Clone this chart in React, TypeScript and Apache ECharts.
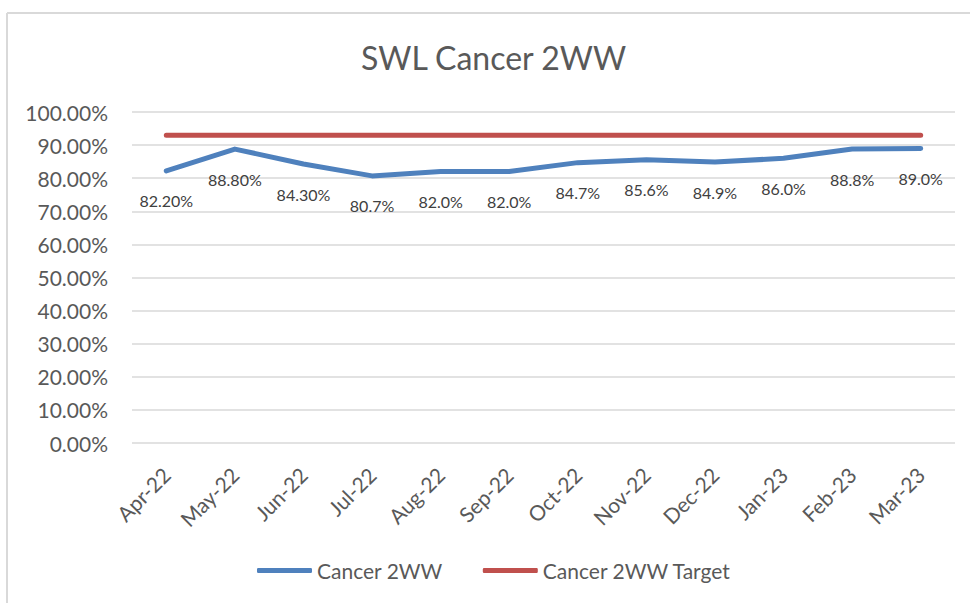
import React, { useEffect, useRef } from "react";
import * as echarts from "echarts";

const categories = ["Apr-22", "May-22", "Jun-22", "Jul-22", "Aug-22", "Sep-22", "Oct-22", "Nov-22", "Dec-22", "Jan-23", "Feb-23", "Mar-23"];
const actual = [0.822, 0.888, 0.843, 0.807, 0.82, 0.82, 0.847, 0.856, 0.849, 0.86, 0.888, 0.89];
const actualLabels = ["82.20%", "88.80%", "84.30%", "80.7%", "82.0%", "82.0%", "84.7%", "85.6%", "84.9%", "86.0%", "88.8%", "89.0%"];
const target = [0.93, 0.93, 0.93, 0.93, 0.93, 0.93, 0.93, 0.93, 0.93, 0.93, 0.93, 0.93];

const FONT = "Lato";
const GREY = "#595959";

export default function App() {
  const ref = useRef<HTMLDivElement>(null);
  useEffect(() => {
    if (!ref.current) return;
    const chart = echarts.init(ref.current, undefined, { renderer: "svg" });
    chart.setOption({
      animation: false,
      backgroundColor: "#ffffff",
      textStyle: { fontFamily: FONT },
      title: {
        text: "SWL Cancer 2WW",
        left: 356,
        top: 36,
        textStyle: { fontFamily: FONT, fontSize: 32, fontWeight: "normal", color: GREY },
      },
      graphic: [
        { type: "line", shape: { x1: 7, y1: 13, x2: 970, y2: 13 }, style: { stroke: "#d9d9d9", lineWidth: 2 } },
        { type: "line", shape: { x1: 7, y1: 13, x2: 7, y2: 603 }, style: { stroke: "#d9d9d9", lineWidth: 2 } },
      ],
      grid: { left: 132, right: 15, top: 112, bottom: 160, containLabel: false },
      legend: {
        bottom: 17,
        left: 252,
        itemWidth: 55,
        itemHeight: 5,
        itemGap: 40,
        textStyle: { fontFamily: FONT, fontSize: 21, color: GREY },
        data: [
          { name: "Cancer 2WW", icon: "roundRect" },
          { name: "Cancer 2WW Target", icon: "roundRect" },
        ],
      },
      xAxis: {
        type: "category",
        data: categories,
        boundaryGap: true,
        axisLine: { show: false },
        axisTick: { show: false },
        axisLabel: { rotate: 45, margin: 28, fontFamily: FONT, fontSize: 21, color: GREY, interval: 0 },
      },
      yAxis: {
        type: "value",
        min: 0,
        max: 1,
        interval: 0.1,
        axisLine: { show: false },
        axisTick: { show: false },
        splitLine: { lineStyle: { color: "#d9d9d9", width: 1.5 } },
        axisLabel: {
          margin: 24,
          fontFamily: FONT,
          fontSize: 21,
          color: GREY,
          formatter: (v: number) => (v * 100).toFixed(2) + "%",
        },
      },
      series: [
        {
          name: "Cancer 2WW",
          type: "line",
          data: actual,
          showSymbol: true,
          symbol: "circle",
          symbolSize: 0.1,
          lineStyle: { color: "#4F81BD", width: 5, cap: "round", join: "round" },
          itemStyle: { color: "#4F81BD" },
          label: {
            show: true,
            position: "bottom",
            distance: 22,
            fontFamily: FONT,
            fontSize: 16,
            color: "#404040",
            formatter: (p: any) => actualLabels[p.dataIndex],
          },
          z: 3,
        },
        {
          name: "Cancer 2WW Target",
          type: "line",
          data: target,
          showSymbol: false,
          symbol: "none",
          lineStyle: { color: "#C0504D", width: 5, cap: "round" },
          itemStyle: { color: "#C0504D" },
          z: 2,
        },
      ],
    });
    return () => chart.dispose();
  }, []);
  return <div ref={ref} style={{ position: "fixed", left: 0, top: 0, width: 970, height: 603 }} />;
}
